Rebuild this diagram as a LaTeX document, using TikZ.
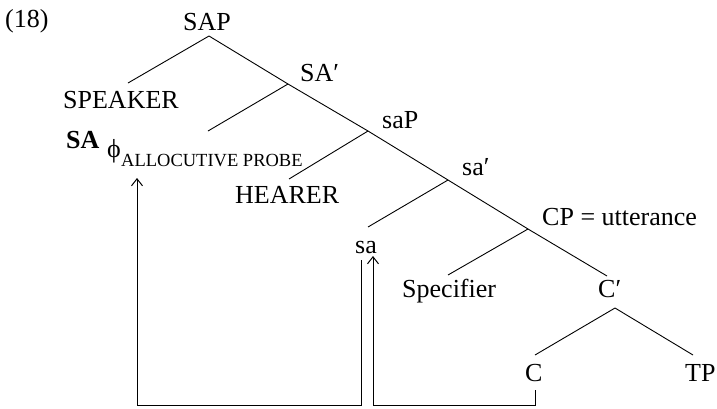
\documentclass[tikz,border=0pt]{standalone}
\usepackage{fontspec}
\setmainfont{Liberation Serif}
\usetikzlibrary{arrows.meta}
\begin{document}
\begin{tikzpicture}[x=1pt,y=-1pt,
  lbl/.style={anchor=base west,inner sep=0pt,font=\fontsize{26}{30}\selectfont},
  sublbl/.style={anchor=base west,inner sep=0pt,font=\fontsize{18.5}{22}\selectfont},
  branch/.style={line width=0.9pt},
  movement/.style={line width=1pt,-{Straight Barb[length=7pt,width=11pt,line width=1pt]}}]
\useasboundingbox (0,0) rectangle (717,408);

% labels
\node[lbl] (ex) at (5,27) {(18)};
\node[lbl] (SAP) at (183,30) {SAP};
\node[lbl] (SAbar) at (300,81) {SA′};
\node[lbl] (speaker) at (63,108) {SPEAKER};
\node[lbl] (SAhead) at (66,148) {\bfseries SA};
\node[lbl] (phi) at (107,157) {ϕ};
\node[sublbl] (probe) at (121,166) {ALLOCUTIVE PROBE};
\node[lbl] (saP) at (382,128) {saP};
\node[lbl] (hearer) at (235,203) {HEARER};
\node[lbl] (sabar) at (462,175) {sa′};
\node[lbl] (sahead) at (355,253) {sa};
\node[lbl] (CP) at (542,225) {CP = utterance};
\node[lbl] (spec) at (402,297) {Specifier};
\node[lbl] (Cbar) at (598,297) {C′};
\node[lbl] (Chead) at (525,381) {C};
\node[lbl] (TP) at (685,381) {TP};

% branching points
\coordinate (jSAP) at (209,36);
\coordinate (jSAbar) at (288,84);
\coordinate (jsaP) at (368,131);
\coordinate (jsabar) at (448,180);
\coordinate (jCP) at (528,229);
\coordinate (jCbar) at (615,308);
% branch ends
\coordinate (eSpeaker) at (128,83);
\coordinate (eSAbar) at (208,131);
\coordinate (ehearer) at (289,179);
\coordinate (esabar) at (368,227);
\coordinate (espec) at (448,275);
\coordinate (eCbar) at (607,276);
\coordinate (eC) at (535,355);
\coordinate (eTP) at (693,355);

% tree
\draw[branch] (jSAP) -- (eSpeaker);
\draw[branch] (jSAP) -- (jSAbar) -- (jsaP) -- (jsabar) -- (jCP) -- (eCbar);
\draw[branch] (jSAbar) -- (eSAbar);
\draw[branch] (jsaP) -- (ehearer);
\draw[branch] (jsabar) -- (esabar);
\draw[branch] (jCP) -- (espec);
\draw[branch] (jCbar) -- (eC);
\draw[branch] (jCbar) -- (eTP);

% movement paths
\coordinate (saFoot) at (361,260);
\coordinate (phiTip) at (137,178);
\coordinate (CFoot) at (535,390);
\coordinate (saTip) at (373,256);
\draw[movement] (saFoot) -- (361,405.5) -| (phiTip);
\draw[movement] (CFoot) -- (535,405.5) -| (saTip);
\end{tikzpicture}
\end{document}
